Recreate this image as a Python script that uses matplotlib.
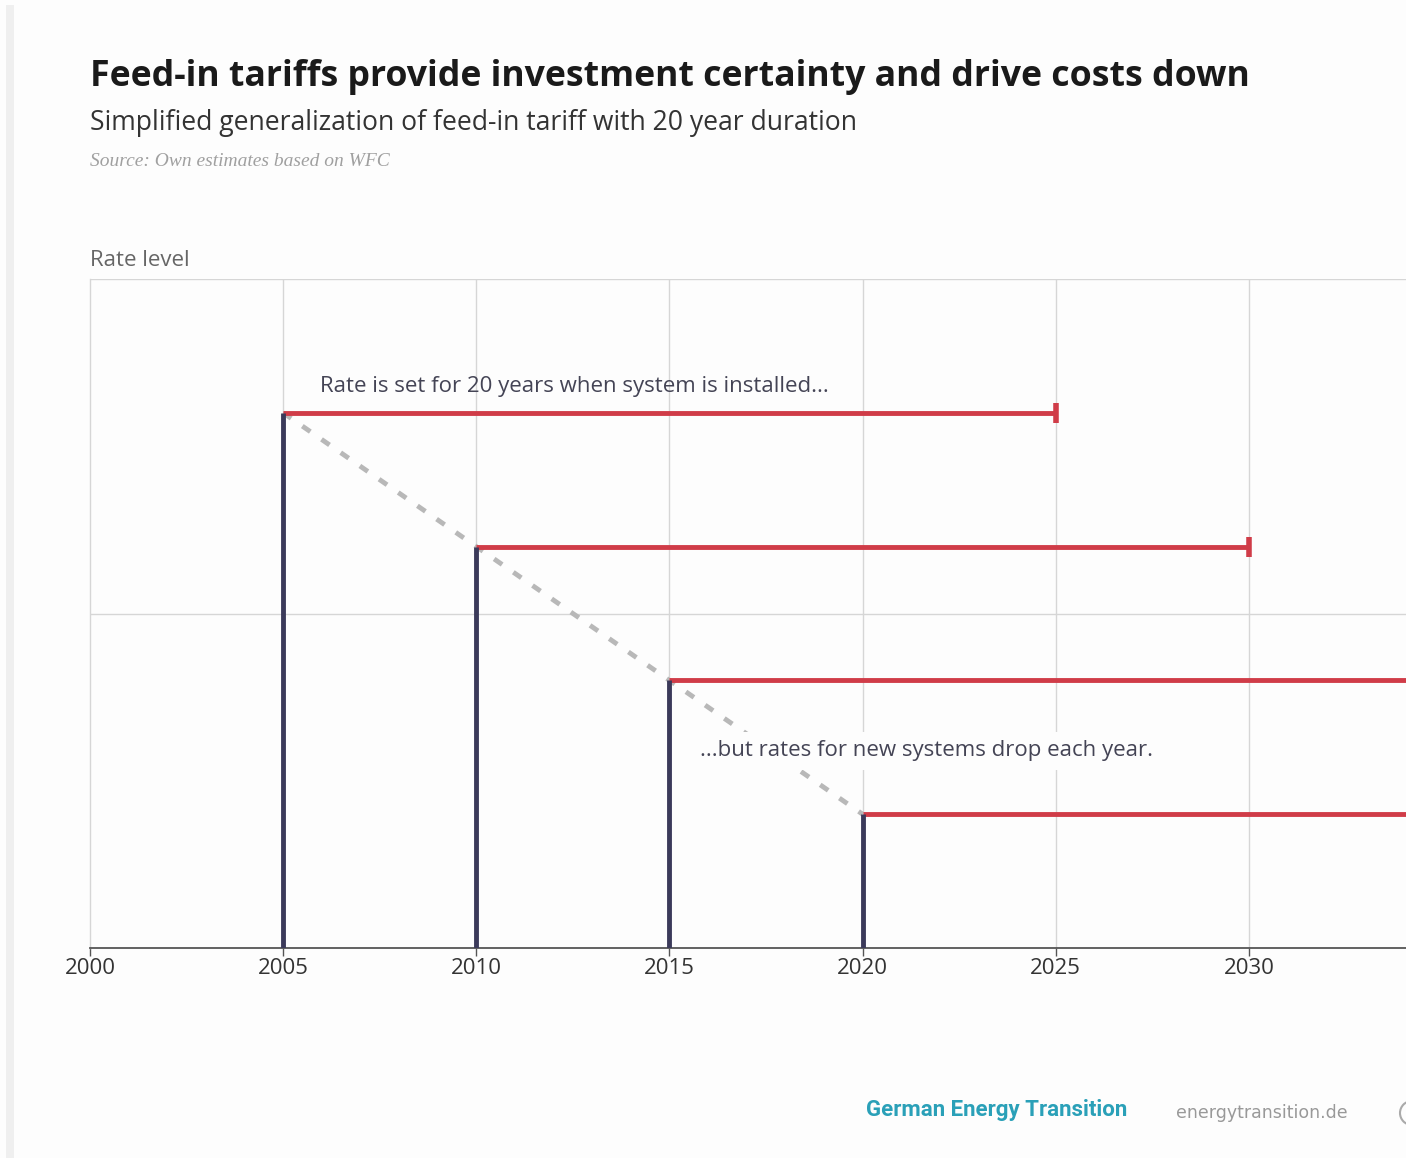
import matplotlib
matplotlib.use("Agg")
import matplotlib.pyplot as plt
from matplotlib.patches import Rectangle, Ellipse

# Data
install_years = [2005, 2010, 2015, 2020]
rate_levels = [1.6, 1.2, 0.8, 0.4]
duration = 20
xticks = [2000, 2005, 2010, 2015, 2020, 2025, 2030]
xtick_labels = ["2000", "2005", "2010", "2015", "2020", "2025", "2030"]

W, H = 1406, 1158
fig = plt.figure(figsize=(W / 100, H / 100), dpi=100)
fig.patch.set_facecolor("#fdfdfd")

# left light strip
fig.add_artist(Rectangle((6 / W, 0), 8 / W, 1 - 5 / H, transform=fig.transFigure,
                         facecolor="#efefef", edgecolor="none", zorder=0))

ax_left = 90 / W
ax_bottom = (H - 948) / H
ax_height = (948 - 279) / H
ax = fig.add_axes([ax_left, ax_bottom, 1 - ax_left, ax_height])
ax.set_facecolor("#fdfdfd")
ax.set_xlim(2000, 2000 + (W - 90) / 38.63)
ax.set_ylim(0, 2)

# grid
for x in xticks[1:]:
    ax.axvline(x, color="#d6d6d6", lw=1.0, zorder=1)
for y in [1, 2]:
    ax.axhline(y, color="#d6d6d6", lw=1.0, zorder=1)

for s in ["top", "right"]:
    ax.spines[s].set_visible(False)
ax.spines["left"].set_color("#d6d6d6")
ax.spines["left"].set_linewidth(1.0)
ax.spines["bottom"].set_color("#555555")
ax.spines["bottom"].set_linewidth(1.3)

ax.set_xticks(xticks)
ax.set_xticklabels(xtick_labels, fontsize=16, color="#333333", family="Open Sans")
ax.tick_params(axis="x", length=6, width=1, color="#555555", pad=1)
ax.set_yticks([])

# dashed diagonal
ax.plot([install_years[0], install_years[-1]], [rate_levels[0], rate_levels[-1]],
        color="#b8b8b8", lw=3.5, dashes=(2.0, 2.8), zorder=2)

navy = "#3b3a5a"
red = "#d03c48"
for yr, r in zip(install_years, rate_levels):
    ax.plot([yr, yr], [0, r], color=navy, lw=3.5, zorder=4, solid_capstyle="butt")
    ax.plot([yr, yr + duration], [r, r], color=red, lw=3.5, zorder=3,
            solid_capstyle="butt", clip_on=True)
    ax.plot([yr + duration], [r], marker="|", markersize=14, mew=4, color=red,
            zorder=3, clip_on=True)

ax.text(2005.95, 1.68, "Rate is set for 20 years when system is installed...",
        fontsize=16, color="#444455", family="Open Sans", va="center", ha="left", zorder=5)
ax.text(2015.8, 0.59, "...but rates for new systems drop each year.",
        fontsize=16, color="#444455", family="Open Sans", va="center", ha="left", zorder=5,
        bbox=dict(facecolor="#fdfdfd", edgecolor="none", pad=6))

# titles
fig.text(90 / W, 1 - 77 / H, "Feed-in tariffs provide investment certainty and drive costs down",
         fontsize=25.7, fontweight="bold", color="#1a1a1a", family="Open Sans", va="center", ha="left")
fig.text(90 / W, 1 - 123 / H, "Simplified generalization of feed-in tariff with 20 year duration",
         fontsize=19.1, color="#333333", family="Open Sans", va="center", ha="left")
fig.text(90 / W, 1 - 161 / H, "Source: Own estimates based on WFC",
         fontsize=14, color="#a0a0a0", family="Liberation Serif", style="italic",
         va="center", ha="left")
fig.text(90 / W, 1 - 261 / H, "Rate level", fontsize=16, color="#666666",
         family="Open Sans", va="center", ha="left")

# footer
fig.text(866 / W, 1 - 1110 / H, "German Energy Transition", fontsize=16, fontweight="bold",
         color="#2aa0b8", family="Roboto", stretch="condensed", va="center", ha="left")
fig.text(1176 / W, 1 - 1113 / H, "energytransition.de", fontsize=12.5, color="#999999",
         family="DejaVu Sans", va="center", ha="left")
fig.add_artist(Ellipse((1412 / W, 1 - 1113 / H), 24 / W, 24 / H, transform=fig.transFigure,
                       facecolor="none", edgecolor="#aaaaaa", lw=1.5))

fig.savefig("out.png", dpi=100, facecolor=fig.get_facecolor())
